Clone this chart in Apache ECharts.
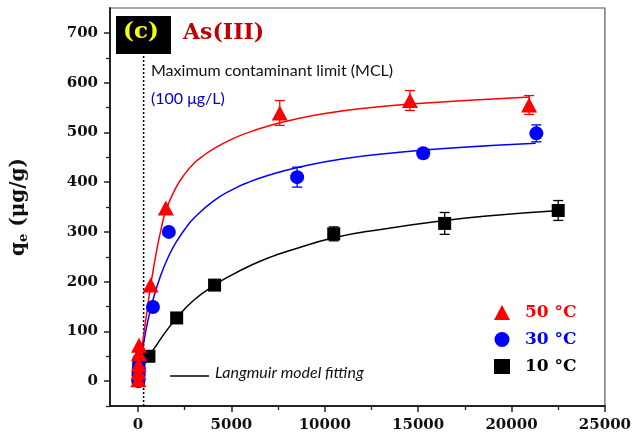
<!DOCTYPE html>
<html>
<head>
<meta charset="utf-8">
<script src="https://cdn.jsdelivr.net/npm/echarts@6/dist/echarts.min.js"></script>
<style>
html,body{margin:0;padding:0;background:#fff;}
#chart{width:634px;height:438px;}
</style>
</head>
<body>
<div id="chart"></div>
<script>
// ---- Data ----
const seriesNames = ['50 °C', '30 °C', '10 °C'];

// Experimental points [Ce, qe]
const red50 = [[20,3],[30,18],[40,33],[50,55],[55,72],[675,193],[1490,348],[7590,539],[14560,564],[20940,555]];
const red50Err = [0,0,0,0,0,0,0,25,20,19];
const blue30 = [[20,0],[30,12],[40,25],[60,42],[800,149],[1650,300],[8520,410],[15270,458],[21330,498]];
const blue30Err = [0,0,0,0,0,0,20,9,17];
const black10 = [[20,5],[30,15],[40,25],[585,50],[2070,127],[4100,193],[10480,296],[16420,317],[22500,343]];
const black10Err = [0,0,0,0,0,0,14,22,20];

// Langmuir fit curves
const fit50 = [[0,0],[150,48],[300,92],[500,145],[700,198],[1000,263],[1250,308],[1490,343],[2000,387],[2500,416],[3000,438],[3500,453],[4000,466],[5000,486],[6000,501],[7000,513],[8000,523],[10000,538],[12500,550],[15000,558],[18000,565],[21000,571]];
const fit30 = [[0,0],[150,41],[300,76],[500,116],[800,163],[1200,211],[1650,252],[2100,283],[2600,310],[3000,328],[4000,361],[5000,384],[6000,401],[7000,414],[8500,429],[11000,447],[14000,460],[17000,469],[21300,478]];
const fit10 = [[0,0],[150,16],[300,30],[585,50],[1000,73],[1500,100],[2070,127],[3000,163],[4100,193],[5000,213],[6000,232],[7000,248],[8000,261],[10480,288],[13000,305],[16420,323],[19000,333],[22600,343]];

const mclX = 300;
const mclRange = [-50, 656];

const xTicks = [0, 5000, 10000, 15000, 20000, 25000];
const xMinorTicks = [2500, 7500, 12500, 17500, 22500];
const yTicks = [0, 100, 200, 300, 400, 500, 600, 700];
const yMinorTicks = [-50, 50, 150, 250, 350, 450, 550, 650];

// ---- Chart ----
const chart = echarts.init(document.getElementById('chart'), null, {renderer:'canvas'});
const serifBold = {fontFamily:'DejaVu Serif', fontWeight:'bold'};

function withErr(pts, err){ return pts.map((p,i)=>[p[0], p[1], err[i]]); }

function errRender(color){
  return function(params, api){
    const x = api.value(0), y = api.value(1), e = api.value(2);
    if (!e) return null;
    const t = api.coord([x, y + e]);
    const b = api.coord([x, y - e]);
    const hw = 5;
    const st = {stroke: color, lineWidth: 1.3};
    return {type:'group', children:[
      {type:'line', shape:{x1:t[0], y1:t[1], x2:b[0], y2:b[1]}, style:st},
      {type:'line', shape:{x1:t[0]-hw, y1:t[1], x2:t[0]+hw, y2:t[1]}, style:st},
      {type:'line', shape:{x1:b[0]-hw, y1:b[1], x2:b[0]+hw, y2:b[1]}, style:st}
    ]};
  };
}

const xRange = {min:-1500, max:25000};
const yRange = {min:-50, max:750};

const option = {
  backgroundColor:'#fff',
  animation:false,
  grid:{left:110, right:28, top:8, bottom:32, show:true, borderColor:'#555', borderWidth:1.2},
  xAxis:[{
    type:'value', min:xRange.min, max:xRange.max, interval:5000,
    axisLine:{onZero:false, lineStyle:{color:'#222', width:2}},
    axisTick:{show:true, length:6, lineStyle:{color:'#222', width:1.5}, customValues: xTicks},
    splitLine:{show:false},
    axisLabel:Object.assign({color:'#111', fontSize:15, margin:12,
      customValues: xTicks, formatter: v => String(v)}, serifBold)
  },{
    type:'value', min:xRange.min, max:xRange.max, position:'bottom',
    axisLine:{show:false, onZero:false},
    axisTick:{show:true, length:4, lineStyle:{color:'#222', width:1.3}, customValues: xMinorTicks},
    axisLabel:{show:false}, splitLine:{show:false}
  }],
  yAxis:[{
    type:'value', min:yRange.min, max:yRange.max, interval:50,
    axisLine:{onZero:false, lineStyle:{color:'#222', width:2}},
    axisTick:{show:true, length:6, lineStyle:{color:'#222', width:1.5}, customValues: yTicks},
    splitLine:{show:false},
    axisLabel:Object.assign({color:'#111', fontSize:15, margin:12, customValues: yTicks,
      formatter: v => String(v)}, serifBold),
    name:'{q|q}{s|e}{q| (μg/g)}',
    nameLocation:'middle', nameGap:80, nameRotate:90,
    nameTextStyle:{rich:{
      q:Object.assign({fontSize:20, color:'#111'}, serifBold),
      s:Object.assign({fontSize:13, color:'#111', padding:[10,0,0,0]}, serifBold)
    }}
  },{
    type:'value', min:yRange.min, max:yRange.max, position:'left',
    axisLine:{show:false, onZero:false},
    axisTick:{show:true, length:4, lineStyle:{color:'#222', width:1.3}, customValues: yMinorTicks},
    axisLabel:{show:false}, splitLine:{show:false}
  }],
  legend:{
    orient:'vertical', left:489, top:299, itemGap:10, itemWidth:16, itemHeight:15,
    data:[
      {name:seriesNames[0], icon:'triangle', textStyle:{color:'#ff0000'}},
      {name:seriesNames[1], icon:'circle', textStyle:{color:'#0000ff'}},
      {name:seriesNames[2], icon:'rect', textStyle:{color:'#000000'}}
    ],
    textStyle:Object.assign({fontSize:17, padding:[0,0,0,10]}, serifBold)
  },
  series:[
    {type:'line', name:'mcl', data:[[mclX, mclRange[0]],[mclX, mclRange[1]]], symbol:'none',
      lineStyle:{color:'#000', width:1.5, type:[2,2]}, z:1, silent:true},
    {type:'line', name:'fit10', data:fit10, smooth:0.5, symbol:'none', lineStyle:{color:'#000', width:1.5}, z:2},
    {type:'line', name:'fit30', data:fit30, smooth:0.5, symbol:'none', lineStyle:{color:'#0000ff', width:1.5}, z:2},
    {type:'line', name:'fit50', data:fit50, smooth:0.5, symbol:'none', lineStyle:{color:'#ff0000', width:1.5}, z:2},
    {type:'custom', name:'err10', data:withErr(black10, black10Err), renderItem:errRender('#000'), z:3},
    {type:'custom', name:'err30', data:withErr(blue30, blue30Err), renderItem:errRender('#0000ff'), z:3},
    {type:'custom', name:'err50', data:withErr(red50, red50Err), renderItem:errRender('#ff0000'), z:3},
    {type:'scatter', name:seriesNames[2], data:black10, symbol:'rect', symbolSize:13, itemStyle:{color:'#000', opacity:1}, z:4},
    {type:'scatter', name:seriesNames[1], data:blue30, symbol:'circle', symbolSize:14, itemStyle:{color:'#0000ff', opacity:1}, z:5},
    {type:'scatter', name:seriesNames[0], data:red50, symbol:'triangle', symbolSize:[16,15], itemStyle:{color:'#ff0000', opacity:1}, z:6}
  ],
  graphic:[
    {type:'rect', left:116, top:16, shape:{width:55, height:38}, style:{fill:'#000'}, z:10},
    {type:'text', left:123, top:21, style:Object.assign({text:'(c)', fill:'#ffff00', fontSize:23}, serifBold), z:11},
    {type:'text', left:183, top:22, style:Object.assign({text:'As(III)', fill:'#c00000', fontSize:22}, serifBold), z:11},
    {type:'text', left:151, top:63, style:{text:'Maximum contaminant limit (MCL)', fill:'#111', fontSize:16, fontFamily:'Lato'}, z:11},
    {type:'text', left:151, top:91, style:{text:'(100 μg/L)', fill:'#0000cc', fontSize:16, fontFamily:'Lato'}, z:11},
    {type:'line', shape:{x1:170, y1:376, x2:209, y2:376}, style:{stroke:'#000', lineWidth:1.3}, z:11},
    {type:'text', left:215, top:365, style:{text:'Langmuir model fitting', fill:'#111', fontSize:16, fontFamily:'Lato', fontStyle:'italic'}, z:11}
  ]
};
chart.setOption(option);
</script>
</body>
</html>
